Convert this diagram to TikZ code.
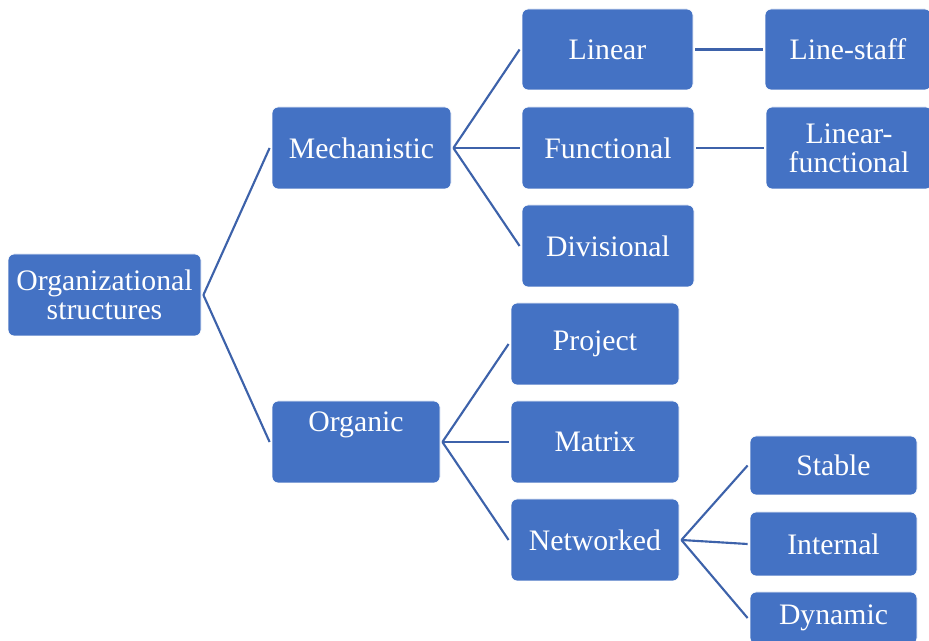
\documentclass[tikz,border=0pt]{standalone}
\usepackage{fontspec}
\setmainfont{Liberation Serif}
\definecolor{boxblue}{HTML}{4472C4}
\definecolor{linkblue}{HTML}{3D62AA}
\begin{document}
\begin{tikzpicture}[x=0.75pt,y=-0.75pt,
  box/.style 2 args={rectangle, rounded corners=4.5pt, fill=boxblue, draw=white,
    line width=0.6pt, text=white, align=center, inner sep=0pt,
    minimum width=#1*0.75pt, minimum height=#2*0.75pt,
    font=\fontsize{22.3}{22}\selectfont},
  link/.style={draw=linkblue, line width=1.6pt}]
\useasboundingbox (0,0) rectangle (929,641);
\clip (0,0) rectangle (929,641);

% level 0
\node[box={193}{82}] (root) at (104.5,295) {Organizational\\structures};
% level 1
\node[box={179}{82}] (mech) at (361.5,148) {Mechanistic};
\node[box={168}{82}] (org) at (356,442) {Organic\\[8pt]\phantom{X}};
% mechanistic branch
\node[box={171}{81}] (lin) at (607.5,49.5) {Linear};
\node[box={172}{82}] (fun) at (608,148) {Functional};
\node[box={172}{82}] (div) at (608,246) {Divisional};
\node[box={166}{81}] (ls) at (848,49.5) {Line-staff};
\node[box={166}{82}] (lf) at (849,148) {Linear-\\functional};
% organic branch
\node[box={168}{82}] (proj) at (595,344) {Project};
\node[box={168}{82}] (mat) at (595,442) {Matrix};
\node[box={168}{82}] (net) at (595,540) {Networked};
% networked branch
\node[box={167}{59}] (stab) at (833.5,465.5) {Stable};
\node[box={167}{64}] (int) at (833.5,544) {Internal};
\node[box={167}{52}] (dyn) at (833.5,618) {Dynamic};

% connectors
\foreach \a/\b in {root/mech, root/org, mech/lin, mech/fun, mech/div,
                   lin/ls, fun/lf, org/proj, org/mat, org/net,
                   net/stab, net/int, net/dyn}
  \draw[link] ([xshift=1.5pt]\a.east) -- ([xshift=-1.5pt]\b.west);
\end{tikzpicture}
\end{document}
